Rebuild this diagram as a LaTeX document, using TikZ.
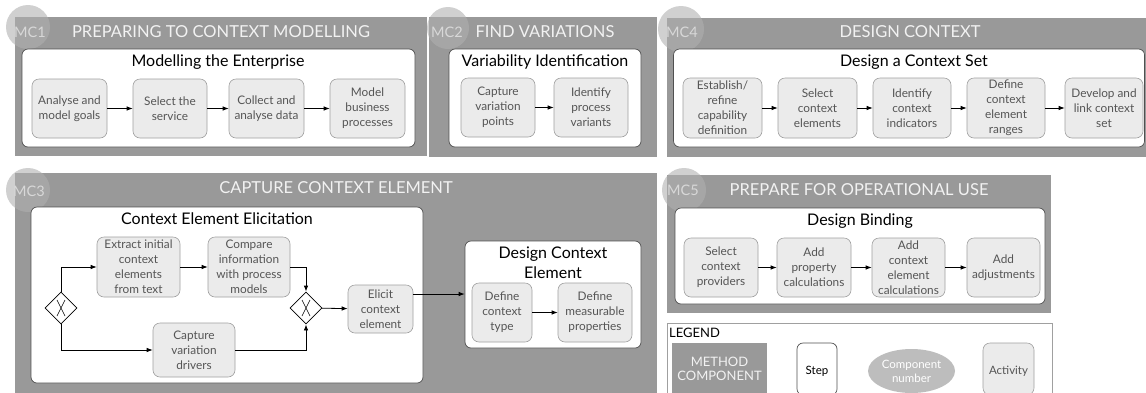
\documentclass[tikz,border=0pt]{standalone}
\usepackage{fontspec}
\setmainfont{Lato}
\usetikzlibrary{shapes.geometric,arrows.meta}
\definecolor{panel}{HTML}{999999}
\definecolor{circ}{HTML}{B0B0B0}
\definecolor{titletext}{HTML}{F2F2F2}
\definecolor{mclabel}{HTML}{D8D8D8}
\definecolor{actfill}{HTML}{EBEBEB}
\definecolor{actdraw}{HTML}{A0A0A0}
\definecolor{acttext}{HTML}{555555}
\definecolor{stepdraw}{HTML}{505050}
\definecolor{ellfill}{HTML}{BDBDBD}
\begin{document}
\begin{tikzpicture}[x=1pt,y=-1pt,
  panelbox/.style={fill=panel},
  mccirc/.style={fill=circ,opacity=.6},
  mcnum/.style={anchor=west,text=mclabel,font=\fontsize{14.5}{14.5}\selectfont,inner sep=0pt},
  mctitle/.style={text=titletext,font=\fontsize{16.5}{16.5}\selectfont,inner sep=0pt},
  stepbox/.style={draw=stepdraw,fill=white,rounded corners=6pt,line width=0.7pt,inner sep=0pt},
  steptitle/.style={font=\fontsize{16}{20}\selectfont,text=black,align=center,inner sep=0pt},
  act/.style={draw=actdraw,fill=actfill,rounded corners=7pt,text=acttext,
    font=\fontsize{11.8}{15}\selectfont,align=center,inner sep=0pt,line width=0.6pt},
  flow/.style={-{Latex[length=6pt,width=4.5pt]},line width=0.8pt},
  gate/.style={diamond,draw=black,fill=white,line width=0.8pt,minimum size=32pt,inner sep=0pt,
    path picture={\draw[line width=0.6pt] ([xshift=-4pt,yshift=8pt]path picture bounding box.center) -- ([xshift=4pt,yshift=-8pt]path picture bounding box.center)
      ([xshift=4pt,yshift=8pt]path picture bounding box.center) -- ([xshift=-4pt,yshift=-8pt]path picture bounding box.center);}}
]
\useasboundingbox (0,0) rectangle (1146,392);
\clip (0,0) rectangle (1146,392);

% ---------- panels ----------
\fill[panelbox] (15,17) rectangle (427,156);
\fill[panelbox] (429,17) rectangle (657,157);
\fill[panelbox] (667,18) rectangle (1146,157);
\fill[panelbox] (15,173) rectangle (657,400);
\fill[panelbox] (667,175) rectangle (1051,313);

\fill[mccirc] (28,27) circle[radius=22pt];
\fill[mccirc] (448,28) circle[radius=21pt];
\fill[mccirc] (681,29) circle[radius=23pt];
\fill[mccirc] (28,190) circle[radius=22pt];
\fill[mccirc] (684,190) circle[radius=22pt];

\node[mcnum] (l1) at (14,32) {MC1};
\node[mcnum] (l2) at (431,32) {MC2};
\node[mcnum] (l4) at (666,32) {MC4};
\node[mcnum] (l3) at (13,191) {MC3};
\node[mcnum] (l5) at (667,190) {MC5};

\node[mctitle] (t1) at (221,32) {PREPARING TO CONTEXT MODELLING};
\node[mctitle] (t2) at (545,32) {FIND VARIATIONS};
\node[mctitle] (t4) at (910,32) {DESIGN CONTEXT};
\node[mctitle] (t3) at (336,188) {CAPTURE CONTEXT ELEMENT};
\node[mctitle] (t5) at (859,190) {PREPARE FOR OPERATIONAL USE};

% ---------- step boxes ----------
\node[stepbox,minimum width=393pt,minimum height=98pt] (s1) at (218.5,98) {};
\node[stepbox,minimum width=192pt,minimum height=98pt] (s2) at (545,98) {};
\node[stepbox,minimum width=471pt,minimum height=98pt] (s4) at (909,98) {};
\node[stepbox,minimum width=370pt,minimum height=96pt] (s5) at (860,256) {};
\node[stepbox,minimum width=392pt,minimum height=176pt] (s3) at (227,295) {};

\node[steptitle] (st1) at (218,62) {Modelling the Enterprise};
\node[steptitle] (st2) at (545,62) {Variability Identification};
\node[steptitle] (st4) at (914,62) {Design a Context Set};
\node[steptitle] (st5) at (860,221) {Design Binding};
\node[steptitle] (st3) at (217,219) {Context Element Elicitation};

% ---------- MC1 ----------
\node[act,minimum width=75pt,minimum height=59pt] (a1) at (69.5,108.5) {Analyse and\\model goals};
\node[act,minimum width=74pt,minimum height=59pt] (a2) at (170,108.5) {Select the\\service};
\node[act,minimum width=75pt,minimum height=59pt] (a3) at (266.5,108.5) {Collect and\\analyse data};
\node[act,minimum width=75pt,minimum height=59pt] (a4) at (367.5,108.5) {Model\\business\\processes};
\draw[flow] (a1) -- (a2);
\draw[flow] (a2) -- (a3);
\draw[flow] (a3) -- (a4);

% ---------- MC2 ----------
\node[act,minimum width=74pt,minimum height=59pt] (b1) at (498,107.5) {Capture\\variation\\points};
\node[act,minimum width=74pt,minimum height=59pt] (b2) at (591,107.5) {Identify\\process\\variants};
\draw[flow] (b1) -- (b2);

% ---------- MC4 ----------
\node[act,minimum width=79pt,minimum height=60pt] (d1) at (722.5,108) {Establish/\\refine\\capability\\definition};
\node[act,minimum width=79pt,minimum height=60pt] (d2) at (817.5,108) {Select\\context\\elements};
\node[act,minimum width=78pt,minimum height=60pt] (d3) at (912,108) {Identify\\context\\indicators};
\node[act,minimum width=78pt,minimum height=60pt] (d4) at (1006,108) {Define\\context\\element\\ranges};
\node[act,minimum width=78pt,minimum height=60pt] (d5) at (1104,108) {Develop and\\link context\\set};
\draw[flow] (d1) -- (d2);
\draw[flow] (d2) -- (d3);
\draw[flow] (d3) -- (d4);
\draw[flow] (d4) -- (d5);

% ---------- MC5 ----------
\node[act,minimum width=74pt,minimum height=59pt] (e1) at (721,267.5) {Select\\context\\providers};
\node[act,minimum width=74pt,minimum height=59pt] (e2) at (814,267.5) {Add\\property\\calculations};
\node[act,minimum width=73pt,minimum height=59pt] (e3) at (908.5,267.5) {Add\\context\\element\\calculations};
\node[act,minimum width=73pt,minimum height=59pt] (e4) at (1003.5,267.5) {Add\\adjustments};
\draw[flow] (e1) -- (e2);
\draw[flow] (e2) -- (e3);
\draw[flow] (e3) -- (e4);

% ---------- MC3 ----------
\node[gate] (g1) at (61,308) {};
\node[gate] (g2) at (306,308) {};
\node[act,minimum width=83pt,minimum height=60pt] (c1) at (138.5,267) {Extract initial\\context\\elements\\from text};
\node[act,minimum width=82pt,minimum height=60pt] (c2) at (249,267) {Compare\\information\\with process\\models};
\node[act,minimum width=82pt,minimum height=54pt] (c3) at (194,350) {Capture\\variation\\drivers};
\node[act,minimum width=65pt,minimum height=48pt] (c4) at (380.5,309) {Elicit\\context\\element};
\draw[flow] (g1.north) |- (c1.west);
\draw[flow] (c1) -- (c2);
\draw[flow] (c2.east) -| (g2.north);
\draw[flow] (g1.south) |- (c3.west);
\draw[flow] (c3.east) -| (g2.south);
\draw[flow] (g2) -- (c4);

\node[stepbox,minimum width=176pt,minimum height=107pt] (dce) at (553,294.5) {};
\node[steptitle] (dcet) at (553,263) {Design Context\\Element};
\node[act,minimum width=60pt,minimum height=59pt] (f1) at (502,312.5) {Define\\context\\type};
\node[act,minimum width=74pt,minimum height=59pt] (f2) at (595,312.5) {Define\\measurable\\properties};
\draw[flow] (f1) -- (f2);
\draw[flow] ([yshift=15pt]c4.east) -- ([yshift=15pt]c4.east -| dce.west);

% ---------- legend ----------
\draw[draw=actdraw,fill=white,line width=0.6pt] (667,323) rectangle (1052,400);
\node[anchor=west,inner sep=0pt,font=\fontsize{13}{13}\selectfont] (leg) at (669,333) {LEGEND};
\node[fill=panel,minimum width=95pt,minimum height=57pt,inner sep=0pt] (lmc) at (719.5,371.5) {};
\node[text=titletext,font=\fontsize{13}{14.5}\selectfont,align=center,inner sep=0pt] (lmct) at (719.5,369) {METHOD\\COMPONENT};
\node[stepbox,minimum width=40pt,minimum height=52pt] (lst) at (817,369) {};
\node[font=\fontsize{11.5}{11.5}\selectfont,inner sep=0pt] (lstt) at (817,371) {Step};
\node[ellipse,fill=ellfill,minimum width=87pt,minimum height=44pt,inner sep=0pt,text=white,
  font=\fontsize{11.5}{14}\selectfont,align=center] (lcn) at (911.5,371) {Component\\number};
\node[act,minimum width=51pt,minimum height=52pt] (lac) at (1008.5,369) {};
\node[text=acttext,font=\fontsize{11.5}{11.5}\selectfont,inner sep=0pt] (lact) at (1008.5,371) {Activity};
\end{tikzpicture}
\end{document}
